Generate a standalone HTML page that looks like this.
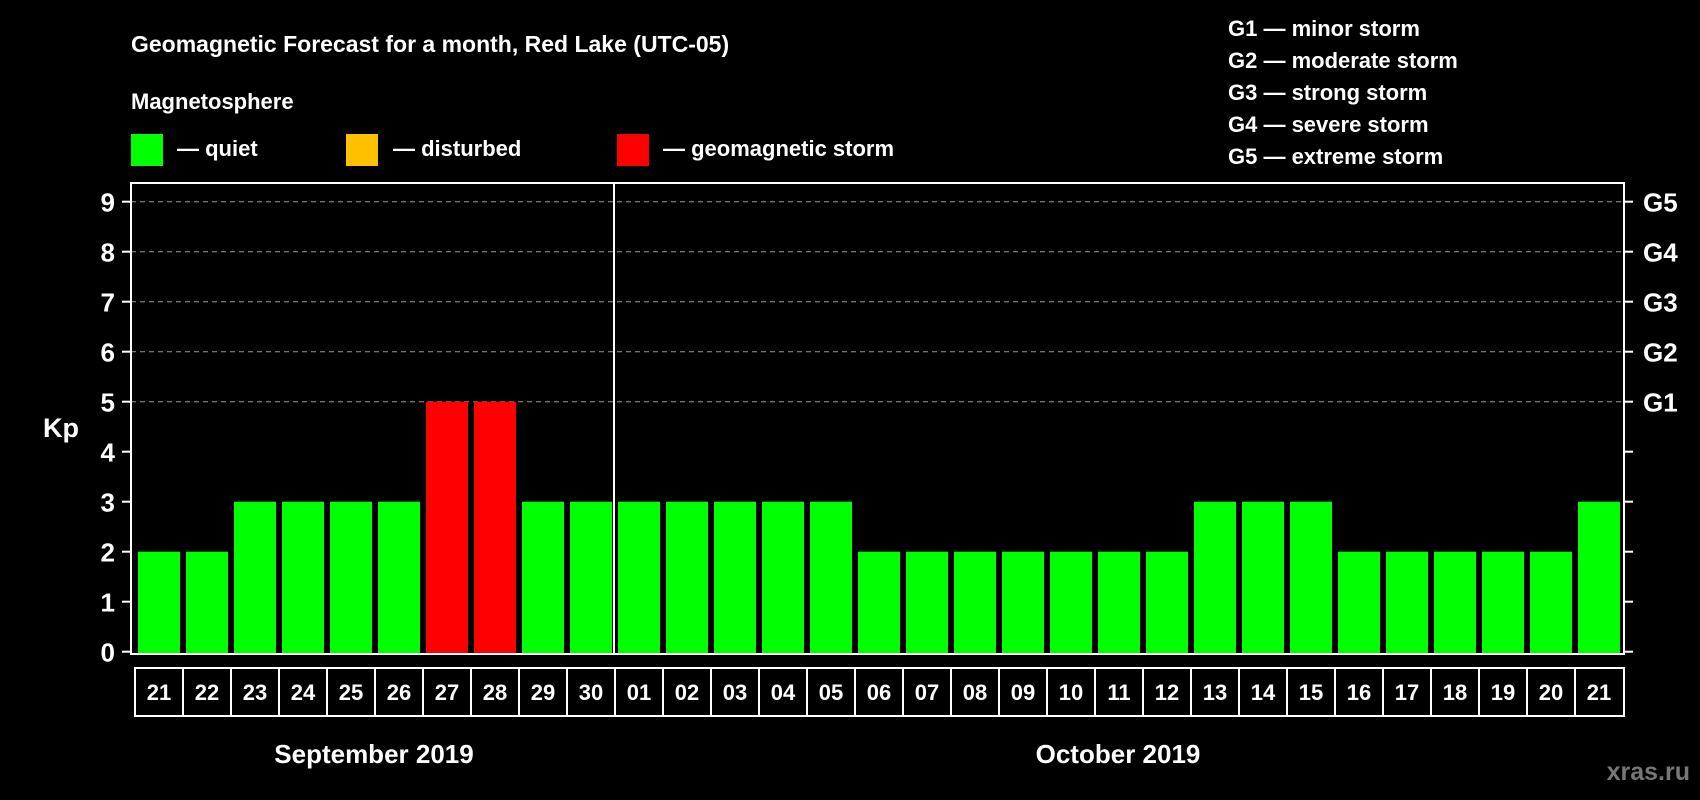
<!DOCTYPE html>
<html><head><meta charset="utf-8"><style>
html,body{margin:0;padding:0;background:#000;}
svg{display:block;font-family:"Liberation Sans",sans-serif;font-weight:bold;}
</style></head><body>
<svg id="chart" width="1700" height="800" viewBox="0 0 1700 800">
<rect x="0" y="0" width="1700" height="800" fill="#000"/>
<text x="131" y="52" fill="#fff" font-size="23">Geomagnetic Forecast for a month, Red Lake (UTC-05)</text>
<text x="131" y="109" fill="#fff" font-size="22">Magnetosphere</text>
<g><rect x="131" y="134" width="32" height="32" fill="#00ff00"/><text x="177" y="156" fill="#fff" font-size="22">— quiet</text></g>
<g><rect x="346" y="134" width="32" height="32" fill="#ffc000"/><text x="393" y="156" fill="#fff" font-size="22">— disturbed</text></g>
<g><rect x="617" y="134" width="32" height="32" fill="#ff0000"/><text x="663" y="156" fill="#fff" font-size="22">— geomagnetic storm</text></g>
<g fill="#fff" font-size="22">
<text x="1228" y="36">G1 — minor storm</text>
<text x="1228" y="68">G2 — moderate storm</text>
<text x="1228" y="100">G3 — strong storm</text>
<text x="1228" y="132">G4 — severe storm</text>
<text x="1228" y="164">G5 — extreme storm</text>
</g>
<text x="43" y="437" fill="#fff" font-size="27">Kp</text>
<g id="grid"></g><g id="bars"></g><g id="axes"></g>
<text x="374" y="763" fill="#fff" font-size="26" text-anchor="middle">September 2019</text>
<text x="1118" y="763" fill="#fff" font-size="26" text-anchor="middle">October 2019</text>
<text x="1690" y="780" fill="#777" font-size="25" text-anchor="end">xras.ru</text>
</svg>
<script>
const days = ["21","22","23","24","25","26","27","28","29","30","01","02","03","04","05","06","07","08","09","10","11","12","13","14","15","16","17","18","19","20","21"];
const kp = [2,2,3,3,3,3,5,5,3,3,3,3,3,3,3,2,2,2,2,2,2,2,3,3,3,2,2,2,2,2,3];
const yTicks = [0,1,2,3,4,5,6,7,8,9];
const gLabels = ["G1","G2","G3","G4","G5"];
const NS="http://www.w3.org/2000/svg";
const L=131,R=1624,T=183,B=654,X0=135,P=48;
const y=v=>651.7-v*50;
const x=i=>X0+i*P;
function mk(tag,attrs,parent){const e=document.createElementNS(NS,tag);for(const k in attrs)e.setAttribute(k,attrs[k]);parent.appendChild(e);return e;}
const grid=document.getElementById('grid'),bars=document.getElementById('bars'),axes=document.getElementById('axes');
yTicks.forEach(v=>{
  if(v>=5){const g=mk('line',{x1:L,x2:R,y1:y(v),y2:y(v),stroke:'#999','stroke-dasharray':'5,4','stroke-width':1},grid);
  
  }
  const t=mk('line',{x1:L-9,x2:L,y1:y(v),y2:y(v),stroke:'#fff','stroke-width':2},axes);
  
  
  const t2=mk('line',{x1:R,x2:R+9,y1:y(v),y2:y(v),stroke:'#fff','stroke-width':2},axes);
  
  
  const lb=mk('text',{x:L-16,y:y(v)+10,fill:'#fff','font-size':26,'text-anchor':'end'},axes);lb.textContent=v;
  
  
});
gLabels.forEach((g,i)=>{
  const lb=mk('text',{x:R+19,y:y(5+i)+10,fill:'#fff','font-size':26},axes);lb.textContent=g;
  
  
});
kp.forEach((v,i)=>{
  const c=v>=5?'#ff0000':(v>=4?'#ffc000':'#00ff00');
  const b=mk('rect',{x:x(i)+3,y:y(v),width:42,height:B-y(v),fill:c},bars);
  
  
  const bx=mk('rect',{x:x(i),y:B+14,width:(i==days.length-1?49:P),height:48,fill:'none',stroke:'#fff','stroke-width':2},axes);
  
  
  const t=mk('text',{x:x(i)+24,y:B+46,fill:'#fff','font-size':22,'text-anchor':'middle'},axes);t.textContent=days[i];
  
  
});
const fr=mk('rect',{x:L,y:T,width:R-L,height:B-T,fill:'none',stroke:'#fff','stroke-width':2},axes);


const ml=mk('line',{x1:x(10)-1,x2:x(10)-1,y1:T,y2:B,stroke:'#fff','stroke-width':2},axes);


</script>
</body></html>
